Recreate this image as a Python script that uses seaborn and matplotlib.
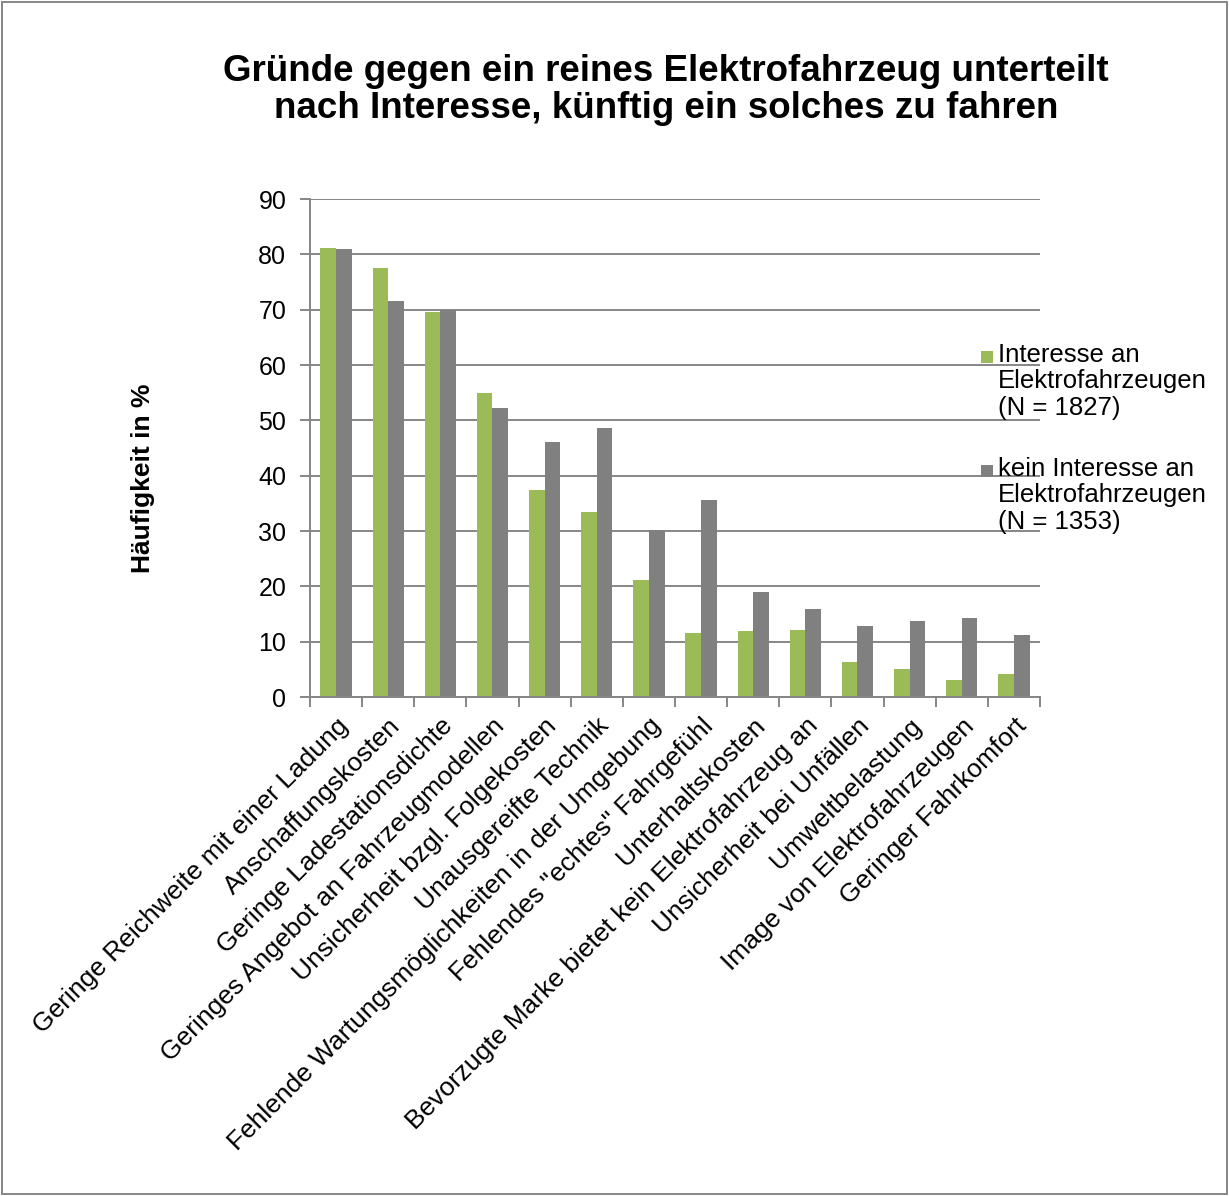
import matplotlib
matplotlib.use("Agg")
import matplotlib.pyplot as plt
from matplotlib.patches import Rectangle
import seaborn as sns
import pandas as pd

categories = [
    "Geringe Reichweite mit einer Ladung",
    "Anschaffungskosten",
    "Geringe Ladestationsdichte",
    "Geringes Angebot an Fahrzeugmodellen",
    "Unsicherheit bzgl. Folgekosten",
    "Unausgereifte Technik",
    "Fehlende Wartungsmöglichkeiten in der Umgebung",
    "Fehlendes \"echtes\" Fahrgefühl",
    "Unterhaltskosten",
    "Bevorzugte Marke bietet kein Elektrofahrzeug an",
    "Unsicherheit bei Unfällen",
    "Umweltbelastung",
    "Image von Elektrofahrzeugen",
    "Geringer Fahrkomfort",
]
interesse = [81.1, 77.6, 69.5, 54.9, 37.5, 33.4, 21.1, 11.6, 11.9, 12.1, 6.4, 5.0, 3.0, 4.2]
kein_interesse = [80.9, 71.6, 70.0, 52.3, 46.1, 48.7, 30.1, 35.6, 19.0, 15.9, 12.9, 13.7, 14.2, 11.3]
series_names = [
    "Interesse an\nElektrofahrzeugen\n(N = 1827)",
    "kein Interesse an\nElektrofahrzeugen\n(N = 1353)",
]
colors = ["#9BBB59", "#808080"]

df = pd.concat([
    pd.DataFrame({"Grund": categories, "Gruppe": series_names[0], "Wert": interesse}),
    pd.DataFrame({"Grund": categories, "Gruppe": series_names[1], "Wert": kein_interesse}),
])

sns.set_theme(style="white")
plt.rcParams["font.family"] = ["Liberation Sans", "DejaVu Sans"]
plt.rcParams["text.color"] = "black"

fig = plt.figure(figsize=(12.29, 11.96), dpi=100)
ax = fig.add_axes([0.2522, 0.4172, 0.594, 0.4164])

sns.barplot(data=df, x="Grund", y="Wert", hue="Gruppe", order=categories,
            hue_order=series_names, palette=colors, width=0.6,
            saturation=1, ax=ax, legend=False, edgecolor="none")

ax.set_ylim(0, 90)
ax.set_xlim(-0.5, len(categories) - 0.5)
ax.set_yticks(range(0, 91, 10))
ax.yaxis.grid(True, color="#868686", linewidth=1.4)
ax.set_axisbelow(True)
for s in ["top", "right"]:
    ax.spines[s].set_visible(False)
for s in ["left", "bottom"]:
    ax.spines[s].set_color("#868686")
    ax.spines[s].set_linewidth(1.4)

ax.tick_params(axis="y", labelsize=18, length=7, width=1.4, color="#868686",
               direction="out", left=True, pad=10, labelcolor="black")
ax.set_xticks(range(len(categories)))
ax.set_xticklabels(categories, rotation=45, ha="right", rotation_mode="anchor",
                   fontsize=19, color="black")
ax.tick_params(axis="x", length=0, pad=12)
# Category separators on the x axis
ax.set_xticks([i - 0.5 for i in range(len(categories) + 1)], minor=True)
ax.tick_params(axis="x", which="minor", length=7, width=1.4, color="#868686",
               direction="out", bottom=True)

ax.set_xlabel("")
ax.set_ylabel("Häufigkeit in %", fontsize=19, fontweight="bold", color="black")
ax.yaxis.set_label_coords(-0.212, 0.44)

fig.text(0.542, 1 - 90 / 1196,
         "Gründe gegen ein reines Elektrofahrzeug unterteilt\nnach Interesse, künftig ein solches zu fahren",
         ha="center", va="center", fontsize=26.5, fontweight="bold", linespacing=1.06,
         color="black")

# Legend: square marker next to the first line of each multi-line entry
W, H = 1229, 1196
legend_tops = [357, 471]
for name, col, yc in zip(series_names, colors, legend_tops):
    fig.patches.append(Rectangle(((981) / W, 1 - (yc + 6) / H), 12 / W, 12 / H,
                                 transform=fig.transFigure, facecolor=col,
                                 edgecolor="none"))
    fig.text(998 / W, 1 - (yc - 14) / H, name, ha="left", va="top",
             fontsize=18.5, linespacing=1.12, color="black")

fig.patches.append(Rectangle((0.0015, 0.0015), 0.997, 0.997, transform=fig.transFigure,
                             fill=False, edgecolor="#868686", linewidth=1.4))

fig.savefig("out.png", dpi=100, facecolor="white")
